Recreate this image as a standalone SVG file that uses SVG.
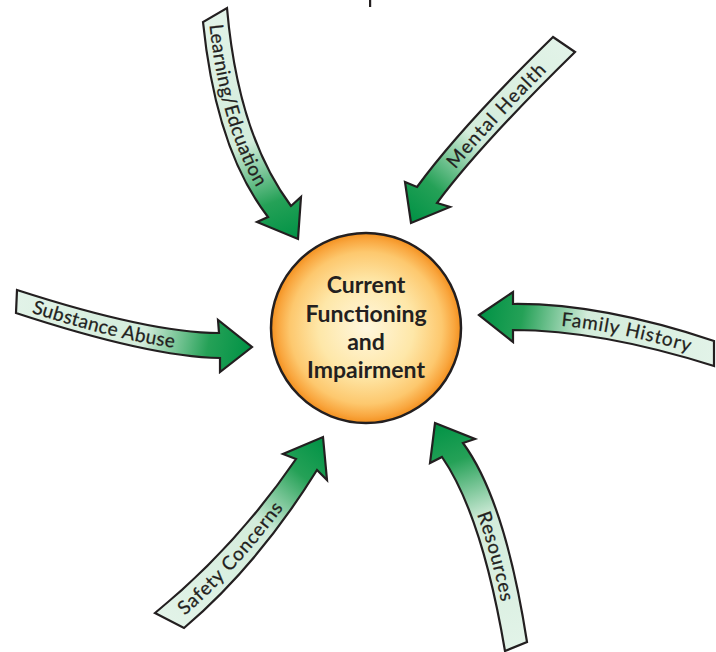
<svg xmlns="http://www.w3.org/2000/svg" width="716" height="652" viewBox="0 0 716 652">
<style>
.arrow{stroke:#231f20;stroke-width:2.2;stroke-linejoin:miter}
.lbl{font-family:Lato,"Open Sans","Liberation Sans",sans-serif;font-size:19px;fill:#231f20;stroke:#231f20;stroke-width:0.25}
.ctr{font-family:Lato,"Open Sans","Liberation Sans",sans-serif;font-size:23px;font-weight:bold;fill:#231f20;text-anchor:middle}
</style>
<defs>
<radialGradient id="gCircle" cx="0.5" cy="0.5" r="0.5">
<stop offset="0" stop-color="#fff7de"/>
<stop offset="0.5" stop-color="#fee7a8"/>
<stop offset="0.8" stop-color="#fdc86e"/>
<stop offset="0.93" stop-color="#f9a63e"/>
<stop offset="1" stop-color="#f3901f"/>
</radialGradient>
<linearGradient id="gLearn" gradientUnits="userSpaceOnUse" x1="215" y1="15" x2="298" y2="239">
<stop offset="0" stop-color="#e2f3e8"/><stop offset="0.55" stop-color="#d3ecdb"/><stop offset="0.82" stop-color="#25a157"/><stop offset="1" stop-color="#009245"/>
</linearGradient>
<linearGradient id="gMental" gradientUnits="userSpaceOnUse" x1="564" y1="45" x2="411" y2="223">
<stop offset="0" stop-color="#e2f3e8"/><stop offset="0.55" stop-color="#d3ecdb"/><stop offset="0.82" stop-color="#25a157"/><stop offset="1" stop-color="#009245"/>
</linearGradient>
<linearGradient id="gSub" gradientUnits="userSpaceOnUse" x1="16" y1="301" x2="252" y2="347">
<stop offset="0" stop-color="#e2f3e8"/><stop offset="0.55" stop-color="#d3ecdb"/><stop offset="0.82" stop-color="#25a157"/><stop offset="1" stop-color="#009245"/>
</linearGradient>
<linearGradient id="gFam" gradientUnits="userSpaceOnUse" x1="714" y1="353" x2="479" y2="315">
<stop offset="0" stop-color="#e2f3e8"/><stop offset="0.55" stop-color="#d3ecdb"/><stop offset="0.82" stop-color="#25a157"/><stop offset="1" stop-color="#009245"/>
</linearGradient>
<linearGradient id="gSafe" gradientUnits="userSpaceOnUse" x1="170" y1="620" x2="323" y2="437">
<stop offset="0" stop-color="#e2f3e8"/><stop offset="0.55" stop-color="#d3ecdb"/><stop offset="0.82" stop-color="#25a157"/><stop offset="1" stop-color="#009245"/>
</linearGradient>
<linearGradient id="gRes" gradientUnits="userSpaceOnUse" x1="516" y1="646" x2="435" y2="423">
<stop offset="0" stop-color="#e2f3e8"/><stop offset="0.55" stop-color="#d3ecdb"/><stop offset="0.82" stop-color="#25a157"/><stop offset="1" stop-color="#009245"/>
</linearGradient>
<path id="tpLearn" d="M 215,15 Q 227,142 280,211"/>
<path id="tpMental" d="M 427,195 Q 470,137 564,45"/>
<path id="tpSub" d="M 16,301 Q 150,345 220,345"/>
<path id="tpFam" d="M 513,317 Q 600,316 714,353"/>
<path id="tpSafe" d="M 170,620 Q 246,556 306,464"/>
<path id="tpRes" d="M 452,450 Q 493,507 516,646"/>
</defs>
<rect width="716" height="652" fill="#ffffff"/>
<rect x="369" y="0" width="2.2" height="7" fill="#231f20"/>
<g id="connectors">
<g id="arrow-learning">
<path class="arrow" fill="url(#gLearn)" d="M 203,22 Q 216,150 268,217 L 257,222 L 298,239 L 301,197 L 291,206 Q 238,135 227,8 Z"/>
<text class="lbl" dy="6.5"><textPath href="#tpLearn" startOffset="9" textLength="168" lengthAdjust="spacing">Learning/Edcuation</textPath></text>
</g>
<g id="arrow-mental">
<path class="arrow" fill="url(#gMental)" d="M 553,37 Q 460,128 417,187 L 405,182 L 411,223 L 450,207 L 437,203 Q 480,145 575,52 Z"/>
<text class="lbl" dy="6.5"><textPath href="#tpMental" startOffset="38" textLength="135" lengthAdjust="spacing">Mental Health</textPath></text>
</g>
<g id="arrow-substance">
<path class="arrow" fill="url(#gSub)" d="M 17,290 Q 150,333 219,333 L 218,320 L 252,347 L 220,372 L 220,358 Q 150,357 16,313 Z"/>
<text class="lbl" dy="6.5"><textPath href="#tpSub" startOffset="18" textLength="146" lengthAdjust="spacing">Substance Abuse</textPath></text>
</g>
<g id="arrow-family">
<path class="arrow" fill="url(#gFam)" d="M 479,315 L 513,292 L 513,304 Q 600,303 714,341 L 714,366 Q 600,330 513,330 L 513,342 Z"/>
<text class="lbl" dy="6.5"><textPath href="#tpFam" startOffset="49" textLength="132" lengthAdjust="spacing">Family History</textPath></text>
</g>
<g id="arrow-safety">
<path class="arrow" fill="url(#gSafe)" d="M 155,613 Q 235,548 296,459 L 283,454 L 323,437 L 327,480 L 317,470 Q 258,565 184,628 Z"/>
<text class="lbl" dy="6.5"><textPath href="#tpSafe" startOffset="14" textLength="145" lengthAdjust="spacing">Safety Concerns</textPath></text>
</g>
<g id="arrow-resources">
<path class="arrow" fill="url(#gRes)" d="M 435,423 L 475,439 L 463,443 Q 505,500 527,642 L 505,651 Q 482,515 442,457 L 430,463 Z"/>
<text class="lbl" dy="6.5"><textPath href="#tpRes" startOffset="70" textLength="92" lengthAdjust="spacing">Resources</textPath></text>
</g>
</g>
<g id="node-center">
<circle cx="366" cy="328" r="95" fill="url(#gCircle)" stroke="#231f20" stroke-width="2.5"/>
<text class="ctr" x="366" y="293">Current</text>
<text class="ctr" x="366" y="322">Functioning</text>
<text class="ctr" x="366" y="350">and</text>
<text class="ctr" x="366" y="378">Impairment</text>
</g>
</svg>
